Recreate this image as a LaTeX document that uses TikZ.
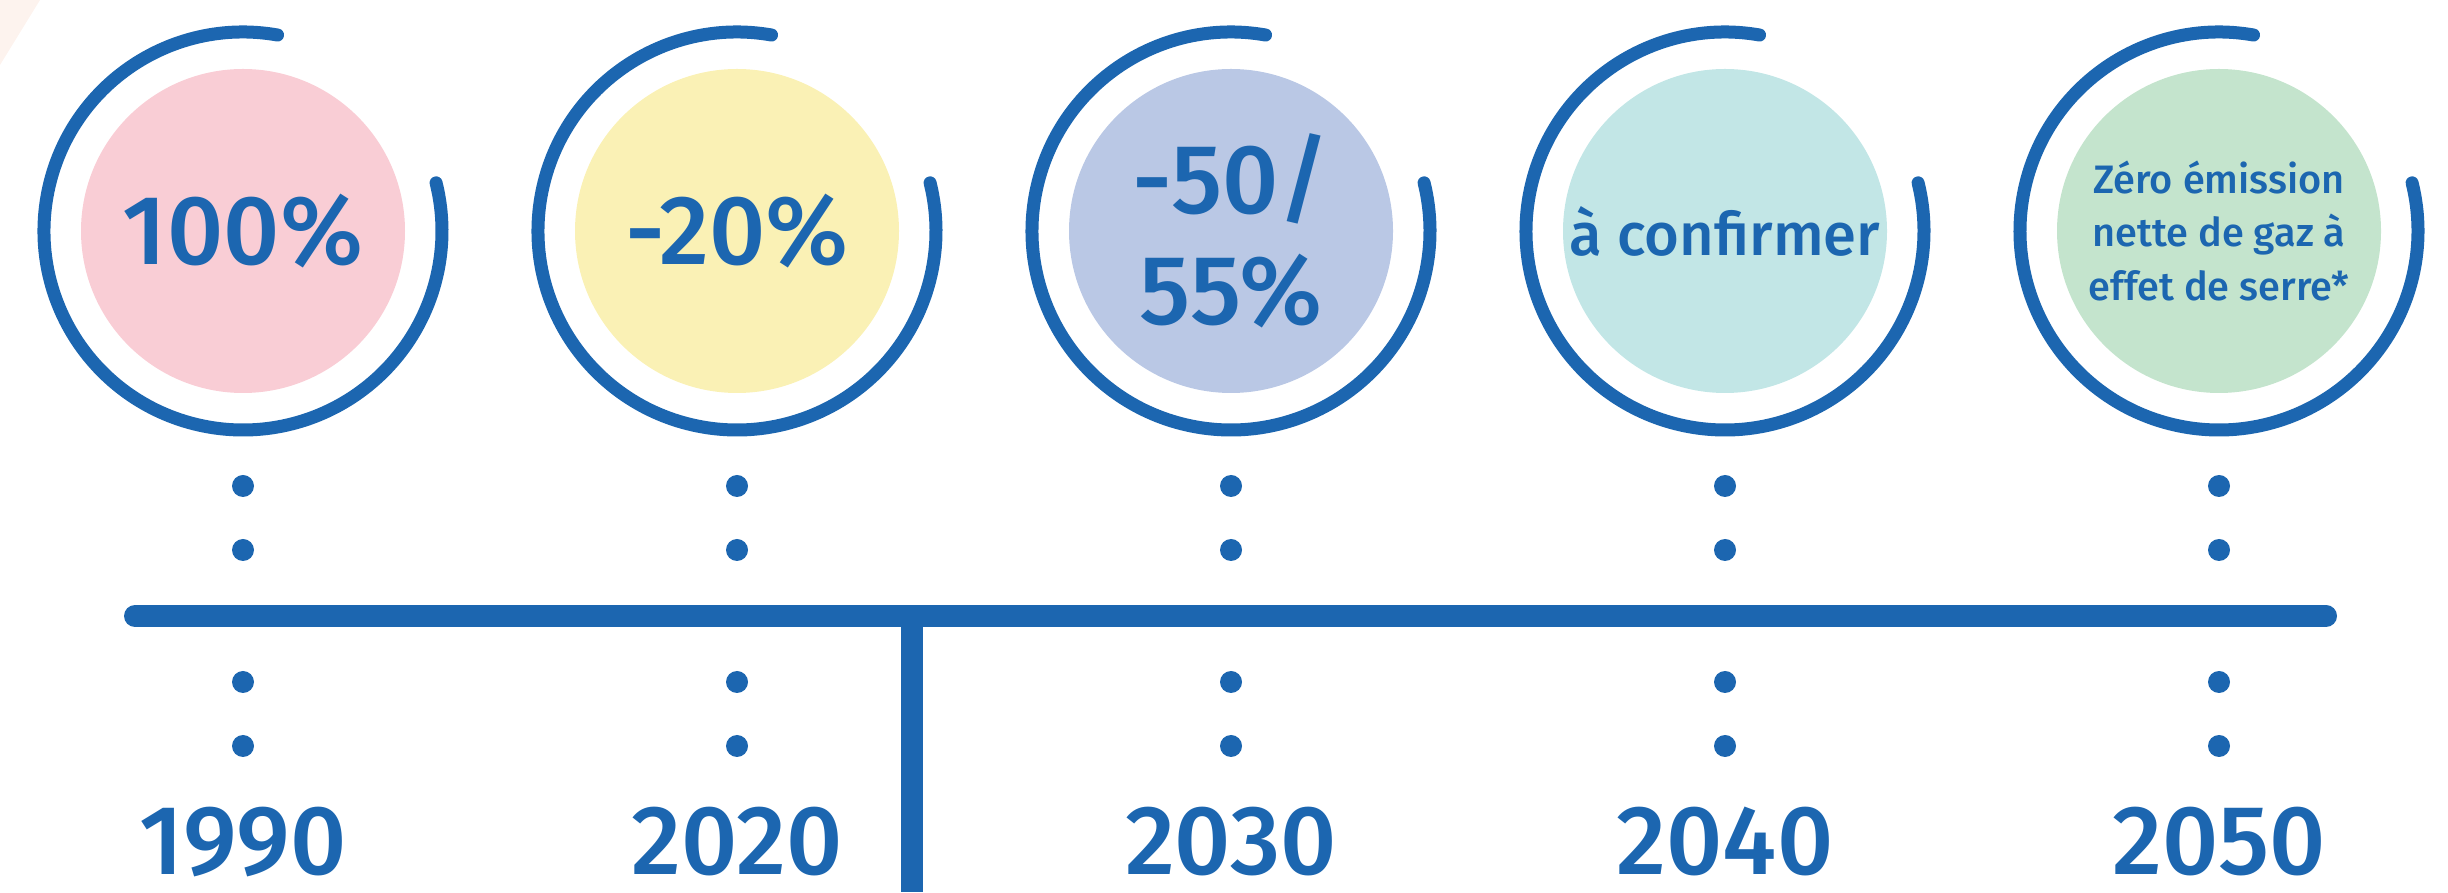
\documentclass[tikz,border=0pt]{standalone}
\usepackage{fontspec}
\setmainfont{Fira Sans}[UprightFont=* Medium]
\usepackage{tikz}
\usetikzlibrary{positioning}
\definecolor{ecblue}{HTML}{1C66B0}
\definecolor{pinkfill}{HTML}{F9CDD5}
\definecolor{yellowfill}{HTML}{FAF1B5}
\definecolor{lavenderfill}{HTML}{BAC8E5}
\definecolor{cyanfill}{HTML}{C2E6E6}
\definecolor{greenfill}{HTML}{C4E4CD}
\definecolor{peach}{HTML}{FDF3EE}
\def\ringarc(#1){\draw[ring] (#1.center) ++(80:1.99) arc (80:374:1.99);}

\begin{document}
\begin{tikzpicture}[
		disc/.style={circle, inner sep=0pt, minimum size=3.24cm, text=ecblue, align=center,
			font={\fontsize{28}{31.6}\selectfont}},
		ring/.style={draw=ecblue, line width=0.13cm, line cap=round},
		dot/.style={fill=ecblue},
		year/.style={anchor=base, inner sep=0pt, text=ecblue, font={\fontsize{28}{32}\selectfont}},
		timeline/.style={draw=ecblue, line width=0.22cm, line cap=round},
		nowline/.style={draw=ecblue, line width=0.22cm}
	]
		%%%%% START %%%%%
		
		\useasboundingbox (0, 0) rectangle (24.48, 8.92);
		\fill[peach] (0, 8.92) -- (0.40, 8.92) -- (0, 8.27) -- cycle;
		
		\node[disc, fill=pinkfill] (d1990) at (2.43, 6.61) {100\%};
		\node[disc, fill=yellowfill] (d2020) at (7.37, 6.61) {-20\%};
		\node[disc, fill=lavenderfill] (d2030) at (12.31, 6.61) {-50/\\55\%};
		\node[disc, fill=cyanfill, font={\fontsize{17}{20}\selectfont}] (d2040) at (17.25, 6.61) {à confirmer};
		\node[disc, fill=greenfill, font={\fontsize{11.3}{15.2}\selectfont}] (d2050) at (22.19, 6.61) {Zéro émission\\nette de gaz à\\effet de serre*};
		
		\ringarc(d1990)
		\ringarc(d2020)
		\ringarc(d2030)
		\ringarc(d2040)
		\ringarc(d2050)
		
		\fill[dot] (2.43, 4.06) circle (0.11);
		\fill[dot] (2.43, 3.42) circle (0.11);
		\fill[dot] (7.37, 4.06) circle (0.11);
		\fill[dot] (7.37, 3.42) circle (0.11);
		\fill[dot] (12.31, 4.06) circle (0.11);
		\fill[dot] (12.31, 3.42) circle (0.11);
		\fill[dot] (17.25, 4.06) circle (0.11);
		\fill[dot] (17.25, 3.42) circle (0.11);
		\fill[dot] (22.19, 4.06) circle (0.11);
		\fill[dot] (22.19, 3.42) circle (0.11);
		
		\coordinate (tl-start) at (1.35, 2.76);
		\coordinate (tl-end) at (23.26, 2.76);
		\draw[timeline] (tl-start) -- (tl-end);
		
		\coordinate (now-top) at (9.12, 2.76);
		\coordinate (now-bottom) at (9.12, 0);
		\draw[nowline] (now-top) -- (now-bottom);
		
		\fill[dot] (2.43, 2.10) circle (0.11);
		\fill[dot] (2.43, 1.46) circle (0.11);
		\fill[dot] (7.37, 2.10) circle (0.11);
		\fill[dot] (7.37, 1.46) circle (0.11);
		\fill[dot] (12.31, 2.10) circle (0.11);
		\fill[dot] (12.31, 1.46) circle (0.11);
		\fill[dot] (17.25, 2.10) circle (0.11);
		\fill[dot] (17.25, 1.46) circle (0.11);
		\fill[dot] (22.19, 2.10) circle (0.11);
		\fill[dot] (22.19, 1.46) circle (0.11);
		
		\node[year] (y1990) at (2.43, 0.17) {1990};
		\node[year] (y2020) at (7.37, 0.17) {2020};
		\node[year] (y2030) at (12.31, 0.17) {2030};
		\node[year] (y2040) at (17.25, 0.17) {2040};
		\node[year] (y2050) at (22.19, 0.17) {2050};
		
		%%%%% END %%%%%
	\end{tikzpicture}
\end{document}
